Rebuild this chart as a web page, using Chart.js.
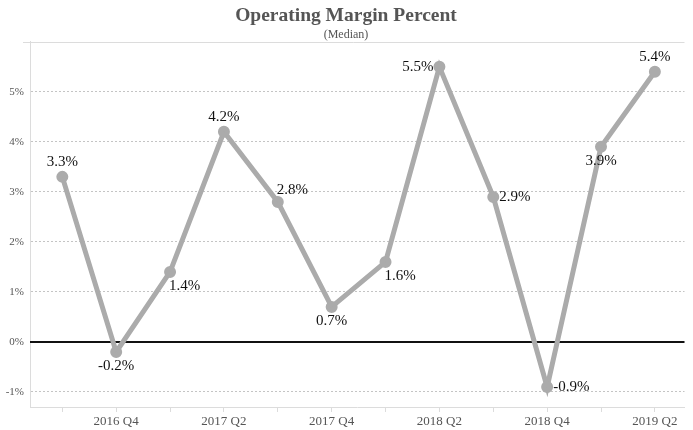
<!DOCTYPE html>
<html>
<head>
<meta charset="utf-8">
<script src="https://cdn.jsdelivr.net/npm/chart.js@4"></script>
<style>
  html, body { margin: 0; padding: 0; background: #fff; }
  #wrap { width: 693px; height: 430px; }
</style>
</head>
<body>
<div id="wrap"><canvas id="chart"></canvas></div>
<script>
// quarters on the x axis
const categories = ['2016 Q3', '2016 Q4', '2017 Q1', '2017 Q2', '2017 Q3', '2017 Q4',
  '2018 Q1', '2018 Q2', '2018 Q3', '2018 Q4', '2019 Q1', '2019 Q2'];
// median operating margin, percent
const marginValues = [3.3, -0.2, 1.4, 4.2, 2.8, 0.7, 1.6, 5.5, 2.9, -0.9, 3.9, 5.4];
// which side of the point each value label sits on
const labelSide = ['top', 'bottom', 'bottomright', 'top', 'topright', 'bottom',
  'bottomright', 'left', 'right', 'right', 'bottom', 'top'];
const yTicks = [-1, 0, 1, 2, 3, 4, 5, 6];

const SERIF = '"Liberation Serif", "DejaVu Serif", serif';

const sideOffsets = {
  top: [0, -15, 'center'],
  bottom: [0, 14, 'center'],
  right: [6, 0, 'left'],
  left: [-6, 0, 'right'],
  topright: [-1, -12, 'left'],
  bottomright: [-1, 14, 'left']
};

// zero line, top border and value labels
const extras = {
  id: 'extras',
  beforeDatasetsDraw(chart) {
    const { ctx, chartArea, scales } = chart;
    ctx.save();
    const yTop = scales.y.getPixelForValue(6);
    ctx.strokeStyle = '#dcdcdc';
    ctx.lineWidth = 1;
    ctx.beginPath();
    ctx.moveTo(chartArea.left - 7, Math.round(yTop) + 0.5);
    ctx.lineTo(chartArea.right, Math.round(yTop) + 0.5);
    ctx.stroke();
    const y0 = scales.y.getPixelForValue(0);
    ctx.strokeStyle = '#111';
    ctx.lineWidth = 2;
    ctx.beginPath();
    ctx.moveTo(chartArea.left, y0);
    ctx.lineTo(chartArea.right, y0);
    ctx.stroke();
    ctx.restore();
  },
  afterDatasetsDraw(chart) {
    const { ctx } = chart;
    const meta = chart.getDatasetMeta(0);
    ctx.save();
    ctx.font = '15px ' + SERIF;
    ctx.fillStyle = '#111';
    ctx.textBaseline = 'middle';
    meta.data.forEach((pt, i) => {
      const [dx, dy, align] = sideOffsets[labelSide[i]];
      ctx.textAlign = align;
      ctx.fillText(marginValues[i].toFixed(1) + '%', pt.x + dx, pt.y + dy);
    });
    ctx.restore();
  }
};

new Chart(document.getElementById('chart'), {
  type: 'line',
  data: {
    datasets: [{
      data: marginValues.map((v, i) => ({ x: i, y: v })),
      borderColor: '#ababab',
      backgroundColor: '#ababab',
      borderWidth: 5,
      pointRadius: 3.5,
      pointHoverRadius: 3.5,
      tension: 0
    }]
  },
  plugins: [extras],
  options: {
    responsive: true,
    maintainAspectRatio: false,
    animation: false,
    layout: { padding: { left: 0, right: 1, top: 0, bottom: 0 } },
    plugins: {
      legend: { display: false },
      tooltip: { enabled: false },
      title: {
        display: true,
        text: 'Operating Margin Percent',
        color: '#555',
        font: { family: SERIF, size: 19.5, weight: 'bold' },
        padding: { top: 4, bottom: 0 }
      },
      subtitle: {
        display: true,
        text: '(Median)',
        color: '#555',
        font: { family: SERIF, size: 12 },
        padding: { top: 0, bottom: 0 }
      }
    },
    scales: {
      x: {
        type: 'linear',
        min: -0.6,
        max: 11.55,
        afterBuildTicks(scale) {
          scale.ticks = categories.map((c, i) => ({ value: i }));
        },
        afterFit(scale) { scale.height = 23; },
        ticks: {
          autoSkip: false,
          maxRotation: 0,
          color: '#555',
          font: { family: SERIF, size: 13 },
          padding: 2,
          callback: (v) => (v % 2 === 1 ? categories[v] : '')
        },
        grid: { drawOnChartArea: false, drawTicks: true, tickLength: 5, color: '#dcdcdc' },
        border: { color: '#dcdcdc' }
      },
      y: {
        min: -1.3,
        max: 6,
        afterBuildTicks(scale) {
          scale.ticks = yTicks.map(v => ({ value: v }));
        },
        afterFit(scale) { scale.width = 30; },
        ticks: {
          color: '#555',
          font: { family: SERIF, size: 11 },
          padding: 6,
          callback: (v) => (v === 6 ? '' : v + '%')
        },
        grid: {
          drawTicks: false,
          color: (c) => (c.tick && (c.tick.value === 0 || c.tick.value === 6) ? 'rgba(0,0,0,0)' : '#c4c4c4'),
          lineWidth: 1
        },
        border: { color: '#dcdcdc', dash: [2, 2] }
      }
    }
  }
});
</script>
</body>
</html>
